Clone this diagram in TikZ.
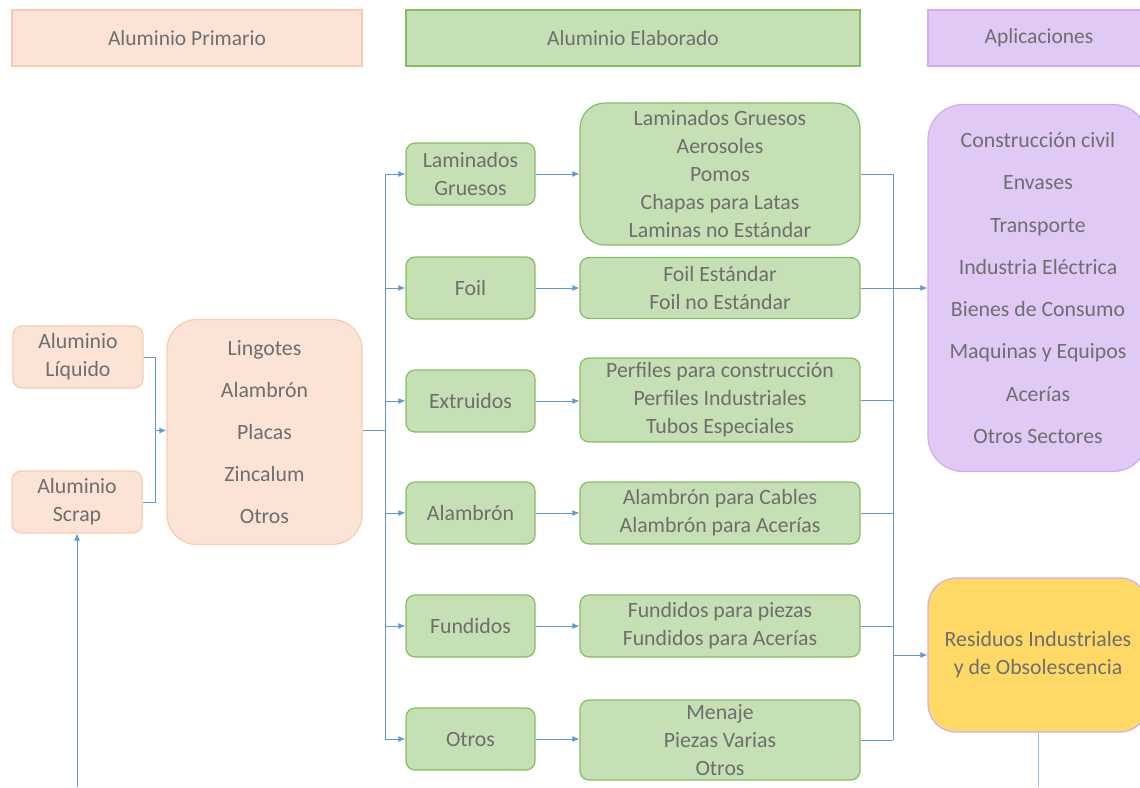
\documentclass[tikz,border=0pt]{standalone}
\usepackage{fontspec}
\setmainfont{Carlito}
\usetikzlibrary{arrows.meta}
\definecolor{peachF}{HTML}{FBE4D6}
\definecolor{peachD}{HTML}{F8CBAD}
\definecolor{greenF}{HTML}{C5E0B4}
\definecolor{greenD}{HTML}{86BE64}
\definecolor{lavF}{HTML}{E1C9F6}
\definecolor{lavD}{HTML}{D2ABF0}
\definecolor{yelF}{HTML}{FFD966}
\definecolor{txtc}{HTML}{6E6E6E}
\definecolor{connc}{HTML}{5B9BD5}
\tikzset{
  box/.style={draw, line width=1.2pt, rounded corners=9pt, align=center, text=txtc, inner sep=0pt, font=\fontsize{21.8}{28}\selectfont},
  hdr/.style={draw, line width=1.2pt, align=center, text=txtc, inner sep=0pt, minimum height=56pt, font=\fontsize{21.5}{24}\selectfont},
  pbox/.style={box, fill=peachF, draw=peachD},
  gbox/.style={box, fill=greenF, draw=greenD},
  lbox/.style={box, fill=lavF, draw=lavD},
  lin/.style={draw=connc, line width=0.9pt},
  arr/.style={lin, -{Latex[length=7pt,width=6pt]}}
}
\begin{document}
\begin{tikzpicture}[x=1pt,y=-1pt]
\useasboundingbox (0,0) rectangle (1140,787);
% headers
\node[hdr, fill=peachF, draw=peachD, minimum width=350pt] (hp) at (187,38) {Aluminio Primario};
\node[hdr, fill=greenF, draw=greenD, minimum width=454pt] (he) at (633,38) {Aluminio Elaborado};
\node[hdr, fill=lavF, draw=lavD, minimum width=222pt] (ha) at (1039,38) {Aplicaciones};
% left
\node[pbox, minimum width=130pt, minimum height=62pt] (liq) at (78,357) {Aluminio\\Líquido};
\node[pbox, minimum width=130pt, minimum height=62pt] (scrap) at (77,502) {Aluminio\\Scrap};
\node[pbox, rounded corners=30pt, minimum width=195pt, minimum height=225pt, font=\fontsize{21.8}{42}\selectfont] (ling) at (264.5,432) {Lingotes\\Alambrón\\Placas\\Zincalum\\Otros};
% green left column
\foreach \n/\y/\t in {l1/174/{Laminados\\Gruesos}, l2/288/Foil, l3/401/Extruidos, l4/513/Alambrón, l5/626/Fundidos, l6/739/Otros}
  \node[gbox, minimum width=129pt, minimum height=62pt] (\n) at (470.5,\y) {\t};
% green right column
\node[gbox, rounded corners=25pt, minimum width=280pt, minimum height=142pt] (r1) at (720,174) {Laminados Gruesos\\Aerosoles\\Pomos\\Chapas para Latas\\Laminas no Estándar};
\node[gbox, minimum width=280pt, minimum height=61pt] (r2) at (720,288) {Foil Estándar\\Foil no Estándar};
\node[gbox, minimum width=280pt, minimum height=84pt] (r3) at (720,400) {Perfiles para construcción\\Perfiles Industriales\\Tubos Especiales};
\node[gbox, minimum width=280pt, minimum height=62pt] (r4) at (720,513) {Alambrón para Cables\\Alambrón para Acerías};
\node[gbox, minimum width=280pt, minimum height=62pt] (r5) at (720,626) {Fundidos para piezas\\Fundidos para Acerías};
\node[gbox, minimum width=280pt, minimum height=80pt] (r6) at (720,740) {Menaje\\Piezas Varias\\Otros};
% applications
\node[lbox, rounded corners=35pt, minimum width=220pt, minimum height=367pt, font=\fontsize{21.8}{42.3}\selectfont] (app) at (1038,288) {Construcción civil\\Envases\\Transporte\\Industria Eléctrica\\Bienes de Consumo\\Maquinas y Equipos\\Acerías\\Otros Sectores};
\node[box, fill=yelF, draw=lavD, rounded corners=28pt, minimum width=220pt, minimum height=154pt] (res) at (1038,655) {Residuos Industriales\\y de Obsolescencia};
% connectors left
\coordinate (jn) at (155,430.5);
\draw[lin] (liq.east) -| (jn);
\draw[lin] (scrap.east) -| (jn);
\draw[arr] (jn) -- (ling.west |- jn);
\coordinate (bot) at (77,787);
\draw[arr] (bot) -- (scrap.south);
% left bus
\coordinate (busL) at (385,0);
\draw[lin] (ling.east |- jn) -- (busL |- jn);
\draw[lin] (busL |- l1) -- (busL |- l6);
\foreach \i in {1,...,6} {
  \draw[arr] (busL |- l\i) -- (l\i.west);
  \draw[arr] (l\i.east) -- (r\i.west |- l\i.east);
}
% right bus
\coordinate (busR) at (893,0);
\foreach \i in {1,...,6} \draw[lin] (r\i.east) -- (busR |- r\i.east);
\draw[lin] (busR |- r1.east) -- (busR |- r6.east);
\draw[arr] (busR |- r2.east) -- (app.west |- r2.east);
\draw[arr] (busR |- res.west) -- (res.west);
\coordinate (bot2) at (1038,787);
\draw[lin, draw=connc!60] (res.south) -- (bot2);
\end{tikzpicture}
\end{document}
